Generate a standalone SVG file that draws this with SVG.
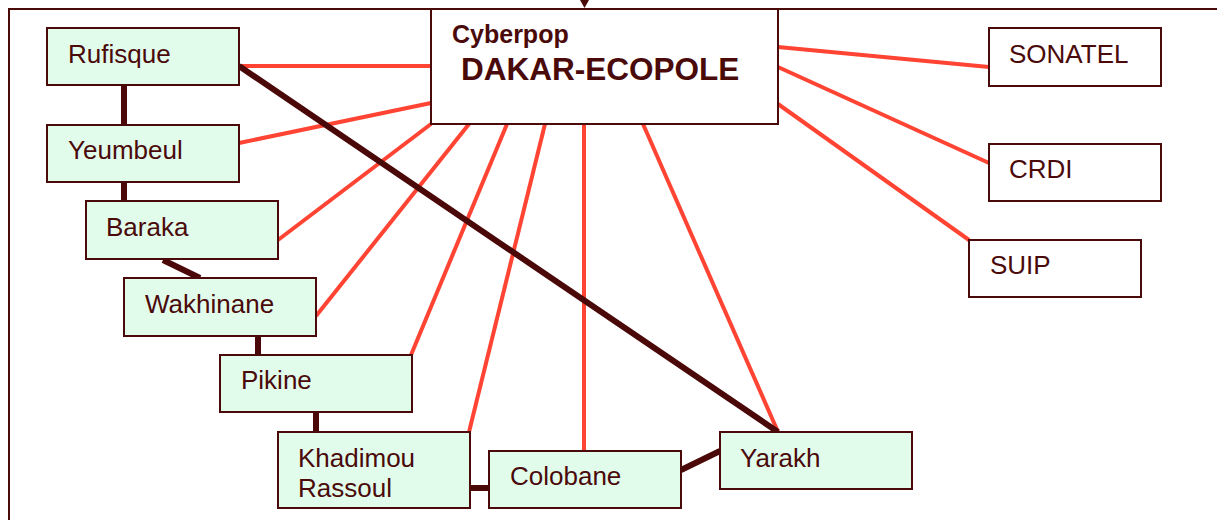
<svg xmlns="http://www.w3.org/2000/svg" width="1217" height="520" viewBox="0 0 1217 520">
<style>
.n rect{fill:#E2FCEC;stroke:#4A0A0A;stroke-width:2}
.w rect{fill:#FFFFFF;stroke:#4A0A0A;stroke-width:2}
text{font-family:"Liberation Sans",Arial,sans-serif;font-size:26px;fill:#4A0A0A}
.b{font-weight:bold}
.r{stroke:#FF4433;stroke-width:4;fill:none}
.d{stroke:#4A0808;stroke-width:6;fill:none}
.f{stroke:#4A0A0A;stroke-width:2;fill:none}
</style>
<rect width="1217" height="520" fill="#FFFFFF"/>
<g id="frame">
<path class="f" d="M9,520 L9,9 L1217,9"/>
<path d="M580,0 L589,0 L584.5,8 Z" fill="#4A0A0A"/>
</g>
<g id="connectors">
<line class="r" x1="239" y1="66" x2="431" y2="66"/>
<line class="r" x1="239" y1="143" x2="431" y2="103"/>
<line class="r" x1="278" y1="240" x2="431" y2="124"/>
<line class="r" x1="316" y1="316" x2="469" y2="124"/>
<line class="r" x1="411" y1="355" x2="507" y2="124"/>
<line class="r" x1="469" y1="432" x2="545" y2="124"/>
<line class="r" x1="584" y1="451" x2="584" y2="124"/>
<line class="r" x1="778" y1="432" x2="643" y2="124"/>
<line class="r" x1="778" y1="47" x2="989" y2="67"/>
<line class="r" x1="778" y1="67" x2="989" y2="163"/>
<line class="r" x1="778" y1="104" x2="969" y2="240"/>
<line class="d" x1="124" y1="85" x2="124" y2="125"/>
<line class="d" x1="124" y1="182" x2="124" y2="201"/>
<line class="d" x1="163" y1="260" x2="200" y2="278"/>
<line class="d" x1="258" y1="336" x2="258" y2="355"/>
<line class="d" x1="316" y1="412" x2="316" y2="432"/>
<line class="d" x1="470" y1="488" x2="489" y2="488"/>
<line class="d" x1="681" y1="470" x2="720" y2="451"/>
<line class="d" x1="239" y1="66" x2="778" y2="432"/>
</g>
<g id="cyberpop" class="w">
<rect x="431" y="9" width="347" height="115"/>
<text x="452" y="43" class="b" style="font-size:25px">Cyberpop</text>
<text x="461" y="80" class="b" style="font-size:31.5px">DAKAR-ECOPOLE</text>
</g>
<g id="rufisque" class="n"><rect x="47" y="28" width="192" height="57"/><text x="68" y="63">Rufisque</text></g>
<g id="yeumbeul" class="n"><rect x="47" y="125" width="192" height="57"/><text x="68" y="159">Yeumbeul</text></g>
<g id="baraka" class="n"><rect x="86" y="201" width="192" height="58"/><text x="106" y="236">Baraka</text></g>
<g id="wakhinane" class="n"><rect x="124" y="278" width="192" height="58"/><text x="145" y="313">Wakhinane</text></g>
<g id="pikine" class="n"><rect x="220" y="355" width="192" height="57"/><text x="241" y="389">Pikine</text></g>
<g id="khadimou" class="n"><rect x="278" y="432" width="192" height="76"/><text x="298" y="467">Khadimou</text><text x="298" y="497">Rassoul</text></g>
<g id="colobane" class="n"><rect x="489" y="451" width="192" height="57"/><text x="510" y="485">Colobane</text></g>
<g id="yarakh" class="n"><rect x="720" y="432" width="192" height="57"/><text x="740" y="467">Yarakh</text></g>
<g id="sonatel" class="w"><rect x="989" y="28" width="172" height="58"/><text x="1009" y="63">SONATEL</text></g>
<g id="crdi" class="w"><rect x="989" y="144" width="172" height="57"/><text x="1009" y="178">CRDI</text></g>
<g id="suip" class="w"><rect x="969" y="240" width="172" height="57"/><text x="990" y="274">SUIP</text></g>
</svg>
